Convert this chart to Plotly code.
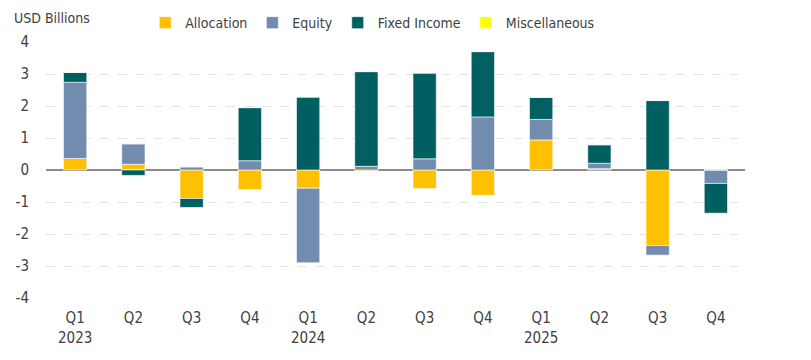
import plotly.graph_objects as go

quarters = ["Q1<br>2023", "Q2", "Q3", "Q4", "Q1<br>2024", "Q2", "Q3", "Q4",
            "Q1<br>2025", "Q2", "Q3", "Q4"]
cat_ids = list(range(12))

allocation = [0.36, 0.18, -0.89, -0.61, -0.57, -0.03, -0.58, -0.79, 0.94, 0.04, -2.36, 0.0]
equity = [2.38, 0.64, 0.10, 0.29, -2.33, 0.115, 0.35, 1.66, 0.64, 0.17, -0.30, -0.42]
fixed_income = [0.31, -0.17, -0.28, 1.66, 2.28, 2.96, 2.68, 2.04, 0.69, 0.58, 2.17, -0.93]
miscellaneous = [0, 0, 0, 0, 0, 0, 0, 0, 0, 0, 0, 0]

y_ticks = [4, 3, 2, 1, 0, -1, -2, -3, -4]
y_tick_labels = ["4", "3", "2", "1", "0", "-1", "-2", "-3", "-4"]

series = [
    ("Allocation", allocation, "#FFC000"),
    ("Equity", equity, "#728CB0"),
    ("Fixed Income", fixed_income, "#005F61"),
    ("Miscellaneous", miscellaneous, "#FFFF00"),
]

FONT = "DejaVu Sans Condensed, sans-serif"
TXT = "#404040"

fig = go.Figure()
for name, vals, color in series:
    fig.add_trace(go.Bar(
        x=cat_ids, y=vals, name=name,
        marker=dict(color=color, line=dict(color="rgba(255,255,255,0.6)", width=1)),
    ))

# page has an 8px body margin, so the figure is sized to fit the 811x360 window
fig.update_layout(
    width=803, height=352,
    barmode="relative", bargap=0.6,
    plot_bgcolor="white", paper_bgcolor="white",
    margin=dict(l=38, r=66, t=34, b=62, autoexpand=False),
    font=dict(family=FONT, size=14, color=TXT),
    showlegend=True,
    legend=dict(orientation="h", x=0.142, xanchor="left", y=1.074, yanchor="middle",
                font=dict(family=FONT, size=14, color=TXT),
                itemwidth=30, traceorder="normal", bgcolor="rgba(0,0,0,0)"),
    xaxis=dict(tickmode="array", tickvals=cat_ids, ticktext=quarters,
               showgrid=False, showline=False, ticks="", zeroline=False,
               range=[-0.5, 11.5], tickfont=dict(size=15), ticklabelstandoff=9),
    yaxis=dict(range=[-4, 4], tickmode="array", tickvals=y_ticks, ticktext=y_tick_labels,
               showgrid=True, gridcolor="#E3E3E3", griddash="dash", gridwidth=1,
               zeroline=True, zerolinecolor="#8C8C8C", zerolinewidth=1.5,
               ticks="", ticklabelstandoff=16, tickfont=dict(size=15)),
    annotations=[dict(text="USD Billions", xref="paper", yref="paper",
                      x=-0.048, y=1.094, xanchor="left", yanchor="middle",
                      showarrow=False, font=dict(family=FONT, size=14, color=TXT))],
)

fig.write_html("out.html")
